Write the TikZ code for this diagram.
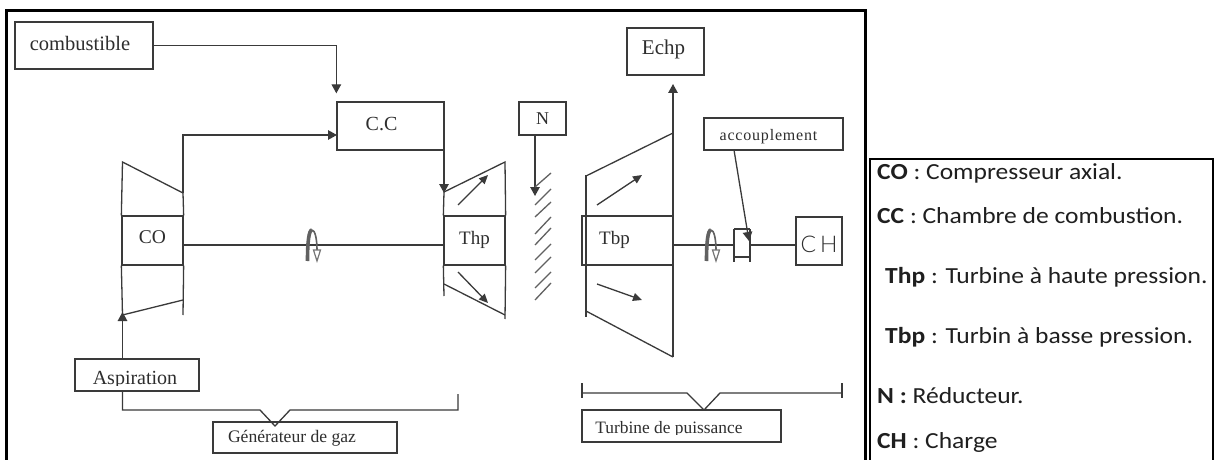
\documentclass[tikz,border=0pt]{standalone}
\usepackage{fontspec}
\setmainfont{Liberation Serif}
\newfontfamily\legfont{Carlito}
\newfontfamily\chfont{Lato Light}
\usetikzlibrary{arrows.meta}
\definecolor{ink}{HTML}{3A3A3A}
\definecolor{txt}{HTML}{2E2E2E}
\newcommand{\legtext}[1]{\scalebox{1.11}[1]{#1}}
\tikzset{
  x=1pt,y=-1pt,
  ln/.style={draw=ink,line width=1.3pt},
  bx/.style={draw=ink,line width=1.3pt,fill=white,inner sep=0pt,text=txt},
  tx/.style={text=txt,inner sep=0pt},
  arr/.style={ln,-{Triangle[length=9pt,width=9.5pt]}},
  sarr/.style={ln,-{Triangle[length=9pt,width=8pt]}},
  hatch/.style={draw=ink!80,line width=1.3pt},
  frame/.style={draw=black,line width=3pt},
  leg/.style={anchor=base west,inner sep=0pt,text=black!88,font=\legfont\fontsize{23}{25}\selectfont},
  curl/.pic={
    \draw[draw=ink!80,line width=3.6pt] (-3.5,16) .. controls (-3.5,-4) and (-2,-15) .. (1,-15);
    \draw[draw=ink!80,line width=1.6pt] (1,-15) .. controls (4,-15) and (6,-6) .. (6,5);
    \draw[draw=ink!70,line width=1.2pt,fill=white] (2.5,5) -- (9.5,5) -- (6,16) -- cycle;
  },
}
\begin{document}
\begin{tikzpicture}
\useasboundingbox (0,0) rectangle (1216,460);
\fill[white] (0,0) rectangle (1216,460);
% frames
\draw[frame] (6,460) -- (6,11) -- (865,11) -- (865,460);
\draw[draw=black,line width=2.4pt] (870,460) -- (870,159) -- (1213,159) -- (1213,460);
% legend
\node[leg] (l1) at (877,179) {\legtext{\textbf{CO} : Compresseur axial.}};
\node[leg] (l2) at (877,223) {\legtext{\textbf{CC} : Chambre de combustion.}};
\node[leg] (l3) at (885,283) {\legtext{\textbf{Thp} : Turbine à haute pression.}};
\node[leg] (l4) at (885,343) {\legtext{\textbf{Tbp} : Turbin à basse pression.}};
\node[leg] (l5) at (877,403) {\legtext{\textbf{N :} Réducteur.}};
\node[leg] (l6) at (877,448) {\legtext{\textbf{CH} : Charge}};
% stage boxes
\node[bx,minimum width=61pt,minimum height=49pt,label={[tx,font=\fontsize{19.5}{22}\selectfont,yshift=3pt]center:CO}] (co) at (152.5,240.5) {};
\node[bx,minimum width=61pt,minimum height=49pt,label={[tx,font=\fontsize{19}{22}\selectfont,xshift=0pt,yshift=1pt]center:Thp}] (thp) at (474.5,240.5) {};
\node[bx,minimum width=91pt,minimum height=49pt,label={[tx,font=\fontsize{19}{22}\selectfont,xshift=-13pt,yshift=1pt]center:Tbp}] (tbp) at (627.5,240.5) {};
% other boxes
\node[bx,minimum width=138pt,minimum height=47pt,label={[tx,font=\fontsize{20.5}{22}\selectfont,xshift=-4pt,yshift=2pt]center:combustible}] (cb) at (84,45.5) {};
\node[bx,minimum width=107pt,minimum height=48pt,label={[tx,font=\fontsize{20}{22}\selectfont,xshift=-9pt,yshift=2pt]center:C.C}] (cc) at (390.5,126) {};
\node[bx,minimum width=47pt,minimum height=33pt,label={[tx,font=\fontsize{18}{22}\selectfont]center:N}] (n) at (542.5,118.5) {};
\node[bx,minimum width=77pt,minimum height=47pt,label={[tx,font=\fontsize{21}{22}\selectfont,xshift=-2pt,yshift=2pt]center:Echp}] (echp) at (665.5,51.5) {};
\node[bx,minimum width=139pt,minimum height=32pt,label={[tx,font=\addfontfeature{LetterSpace=5}\fontsize{16}{18}\selectfont,xshift=-5pt,yshift=-3pt]center:accouplement}] (acc) at (773.5,134) {};
\node[bx,minimum width=46pt,minimum height=48pt,label={[tx,font=\chfont\fontsize{23}{26}\selectfont,yshift=-3pt]center:C\,H}] (ch) at (819,241) {};
\node[bx,minimum width=124pt,minimum height=32pt] (asp) at (137,375) {};
\node[bx,minimum width=184pt,minimum height=31pt,label={[tx,font=\fontsize{17.6}{20}\selectfont,xshift=-13pt,yshift=-1pt]center:Générateur de gaz}] (gen) at (305,437.5) {};
\node[bx,minimum width=199pt,minimum height=32pt] (tur) at (681.5,426) {};
% clipped captions
\begin{scope}
  \clip (76,360) rectangle (198,385);
  \node[tx,font=\fontsize{20}{22}\selectfont,anchor=base] (asptxt) at (135,384) {Aspiration};
\end{scope}
\begin{scope}
  \clip (583,411) rectangle (780,434);
  \node[tx,font=\fontsize{17.4}{20}\selectfont,anchor=base] (turtxt) at (669,433) {Turbine de puissance};
\end{scope}
% points
\coordinate (ccin) at (337,135);
\coordinate (ccout) at (444,150);
\coordinate (cotl) at (122.5,162);
\coordinate (cotr) at (183,193);
\coordinate (cobl) at (122.5,315);
\coordinate (cobr) at (183,300);
\coordinate (tin) at (444,192);
% compressor
\draw[ln] (co.north west) -- (cotl) -- (cotr) -- (co.north east);
\draw[ln] (co.south east) -- (183,315);
\draw[ln] (cobl) -- (cobr);
\draw[ln] (co.south west) -- (cobl);
\draw[arr] (asp.north -| cobl) -- (122.5,312);
\draw[arr] (cb.east) -| ([yshift=8pt]cc.north west);
\draw[arr] (cotr) |- (ccin);
\draw[arr] (ccout) -- ([yshift=-1pt]tin);
% shaft
\draw[ln] ([yshift=-4.5pt]co.east) -- ([yshift=-4.5pt]thp.west);
\draw[ln] ([yshift=-4.5pt]tbp.east) -- (734,245);
\draw[ln] (750,245) -- ([yshift=-4pt]ch.west);
\pic at (311,245) {curl};
\pic at (710,245) {curl};
% Thp blades
\draw[ln] (tin) -- (505,162) -- (thp.north east);
\draw[ln] (thp.north west) -- (tin);
\draw[ln] (thp.south west) -- (444,296);
\draw[ln] (444,284) -- (505,315);
\draw[ln] (thp.south east) -- (505,319);
\draw[sarr] (458,205) -- (488,175);
\draw[sarr] (458,272) -- (488,303);
% reducer
\draw[arr] ([xshift=-7.5pt]n.south) -- (535,196);
\foreach \a/\b in {187/173,205/189,217/202,234/217,245/228,260/244,273/257,288/272,300/283}
  \draw[hatch] (535,\a) -- (551,\b);
% Tbp blades
\draw[ln] (586,216) -- (586,175);
\draw[ln] (586,176) -- (673,133);
\draw[ln] (586,265) -- (586,317);
\draw[ln] (586,311) -- (673,357);
\draw[ln] (673,265) -- (673,357);
\draw[arr] (673,216) -- (673,84);
\draw[ln] (586,216) -- (586,265);
\draw[sarr] (597,205) -- (642,175);
\draw[sarr] (597,284) -- (642,300);
% coupling
\draw[ln] (734,229) -- (750,229);
\draw[ln] (734,229) -- (734,262);
\draw[ln] (750,229) -- (750,262);
\draw[ln] (734,257) -- (750,257);
\draw[arr] (734,150) -- (749,241);
% brackets
\draw[ln] (122.5,391) -- (122.5,410) -- (260,410) -- (275,426) -- (290,410) -- (458,410) -- (458,394);
\draw[ln] (582,383) -- (582,398);
\draw[ln] (842,383) -- (842,398);
\draw[ln] (582,393) -- (687,393) -- (704,410) -- (720,393) -- (842,393);
\end{tikzpicture}
\end{document}
